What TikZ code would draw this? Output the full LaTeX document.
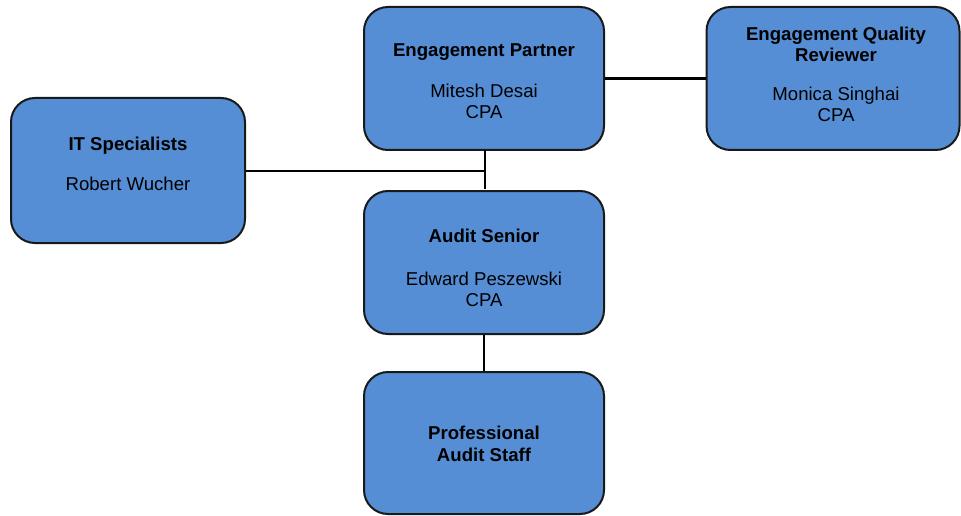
\documentclass[tikz,border=0pt]{standalone}
\usepackage{fontspec}
\setmainfont{Liberation Sans}
\definecolor{boxblue}{RGB}{85,142,213}
\begin{document}
\begin{tikzpicture}[x=1pt,y=-1pt,
  orgbox/.style={draw=black!90, line width=2pt, fill=boxblue, rounded corners=24pt, rectangle, inner sep=0pt},
  ttl/.style={anchor=base, inner sep=0pt, font=\fontsize{18.6}{21}\selectfont\bfseries},
  nm/.style={anchor=base, inner sep=0pt, font=\fontsize{18.6}{21}\selectfont},
  conn/.style={line width=2pt, black}]
\useasboundingbox (0,0) rectangle (961,516);
% boxes
\node[orgbox, minimum width=240pt, minimum height=143pt] (EP) at (484,78.5) {};
\node[orgbox, minimum width=253pt, minimum height=143pt] (EQR) at (833,78.5) {};
\node[orgbox, minimum width=234pt, minimum height=145pt] (IT) at (128,170.5) {};
\node[orgbox, minimum width=240pt, minimum height=143pt] (AS) at (484,262.5) {};
\node[orgbox, minimum width=240pt, minimum height=142pt] (PS) at (484,443) {};
% texts
\node[ttl] (EPt) at (484,57) {Engagement Partner};
\node[nm] (EPn) at (484,98) {Mitesh Desai};
\node[nm] (EPc) at (484,119) {CPA};
\node[ttl] (EQRt1) at (836,41) {Engagement Quality};
\node[ttl] (EQRt2) at (836,62) {Reviewer};
\node[nm] (EQRn) at (836,101) {Monica Singhai};
\node[nm] (EQRc) at (836,122) {CPA};
\node[ttl] (ITt) at (128,150) {IT Specialists};
\node[nm] (ITn) at (128,190) {Robert Wucher};
\node[ttl] (ASt) at (484,242) {Audit Senior};
\node[nm] (ASn) at (484,285) {Edward Peszewski};
\node[nm] (ASc) at (484,306) {CPA};
\node[ttl] (PSt1) at (484,439) {Professional};
\node[ttl] (PSt2) at (484,461) {Audit Staff};
% connectors
\coordinate (jn) at (485,189);
\draw[conn] (485,150) -- (jn);
\draw[conn] (IT.east) -- (IT.east -| jn);
\draw[conn, line width=3pt] (EP.east) -- (EQR.west);
\draw[conn] (AS.south) -- (PS.north);
\end{tikzpicture}
\end{document}
